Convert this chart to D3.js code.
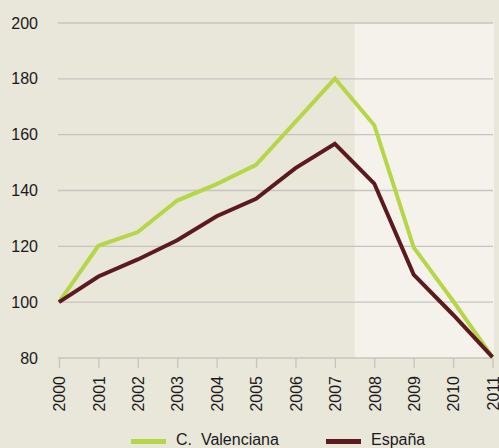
<!DOCTYPE html>
<html>
<head>
<meta charset="utf-8">
<script src="https://cdn.jsdelivr.net/npm/d3@7"></script>
<style>
  body { margin: 0; background: #e9e6da; }
  svg { display: block; font-family: "Liberation Sans", Arial, sans-serif; }
</style>
</head>
<body>
<svg id="chart" width="499" height="448"></svg>
<script>
var years = [2000, 2001, 2002, 2003, 2004, 2005, 2006, 2007, 2008, 2009, 2010, 2011];
var valenciana = [100, 120.2, 125.1, 136.4, 142.3, 149.2, 164.6, 180.1, 163.4, 119.6, 100.4, 80.3];
var espana = [100, 109.2, 115.3, 122.2, 130.8, 137, 148, 156.7, 142.5, 109.9, 95.5, 80.3];
var yTicks = [80, 100, 120, 140, 160, 180, 200];
var seriesNames = ['C.\u00a0\u00a0Valenciana', 'España'];
var seriesColors = ['#b6d648', '#5c1a1f'];

var svg = d3.select('#chart');

var x = d3.scaleLinear().domain([2000, 2011]).range([59, 492.5]);
var y = d3.scaleLinear().domain([80, 200]).range([358, 23]);

// lighter band for the later years
svg.append('rect')
  .attr('x', x(2007.5))
  .attr('y', y(200))
  .attr('width', 494 - x(2007.5))
  .attr('height', y(80) - y(200))
  .style('fill', '#f5f2eb');

// horizontal grid
svg.append('g')
  .selectAll('line')
  .data(yTicks.slice(1))
  .enter().append('line')
  .attr('x1', 58)
  .attr('x2', 493)
  .attr('y1', function(d) { return y(d); })
  .attr('y2', function(d) { return y(d); })
  .style('stroke', '#c6c4c0')
  .style('stroke-width', 1.3);

// y labels
svg.append('g')
  .selectAll('text')
  .data(yTicks)
  .enter().append('text')
  .attr('x', 38)
  .attr('y', function(d) { return y(d); })
  .attr('dy', '0.35em')
  .attr('text-anchor', 'end')
  .style('font-size', '16px')
  .style('fill', '#1a1a1a')
  .text(function(d) { return d; });

// x axis
var xAxis = d3.axisBottom(x)
  .tickValues(years)
  .tickFormat(d3.format('d'))
  .tickSize(10)
  .tickSizeOuter(0);

var gx = svg.append('g')
  .attr('transform', 'translate(0,' + y(80) + ')')
  .call(xAxis);
gx.select('.domain').attr('d', 'M58,0H493').style('stroke', '#c6c4c0').style('stroke-width', 1.3);
gx.selectAll('.tick line').style('stroke', '#c6c4c0').style('stroke-width', 1.3);
gx.selectAll('.tick text')
  .attr('transform', 'rotate(-90)')
  .attr('x', -18)
  .attr('y', 0)
  .attr('dy', '0.36em')
  .attr('text-anchor', 'end')
  .style('font-size', '16px')
  .style('font-family', '"Liberation Sans", Arial, sans-serif')
  .style('fill', '#1a1a1a');

var line = d3.line()
  .x(function(d, i) { return x(years[i]); })
  .y(function(d) { return y(d); });

[valenciana, espana].forEach(function(vals, i) {
  svg.append('path')
    .datum(vals)
    .attr('d', line)
    .style('fill', 'none')
    .style('stroke', seriesColors[i])
    .style('stroke-width', 4)
    .style('stroke-linejoin', 'miter');
});

// legend
var legendX = [131, 326];
var legend = svg.append('g')
  .selectAll('g')
  .data(seriesNames)
  .enter().append('g')
  .attr('transform', function(d, i) { return 'translate(' + legendX[i] + ',0)'; });
legend.append('rect')
  .attr('x', 0)
  .attr('y', 439)
  .attr('width', 35)
  .attr('height', 5)
  .style('fill', function(d, i) { return seriesColors[i]; });
legend.append('text')
  .attr('x', 45)
  .attr('y', 445)
  .style('font-size', '16px')
  .style('fill', '#1a1a1a')
  .text(function(d) { return d; });
</script>
</body>
</html>
